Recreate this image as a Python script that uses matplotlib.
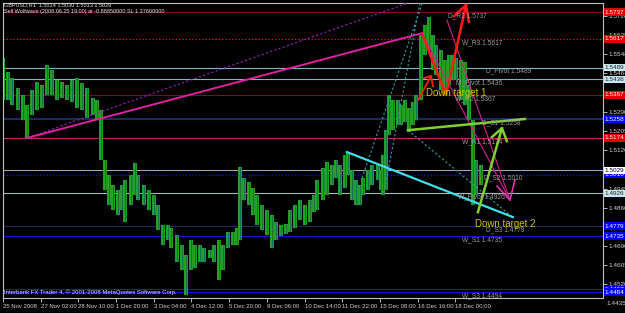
import matplotlib.pyplot as plt
import matplotlib.transforms as mtransforms

# GBPUSD H1 price path, sampled from the chart (bar index, high, low)
bars = [0, 4, 8, 13, 17, 20, 25, 29, 33, 37, 42, 46, 50, 54, 59, 63, 67, 71, 76, 80,
        83, 87, 90, 93, 98, 101, 104, 109, 112, 115, 120, 124, 128, 132, 136, 140, 143, 148, 152, 155,
        160, 163, 167, 171, 176, 179, 183, 187, 191, 195, 199, 201, 205, 209, 212, 216, 220, 224, 228, 232,
        236, 240, 244, 248, 252, 256, 261, 264, 267, 272, 275, 279, 283, 286, 290, 293, 296, 300, 303, 306,
        310, 313, 318, 321, 323, 325, 328, 331, 335, 338, 341, 345, 348, 351, 355, 358, 362, 365, 368, 372,
        375, 379, 382, 385, 389, 392, 396, 399, 402, 406]
highs = [1.5532, 1.5469, 1.5442, 1.5397, 1.5366, 1.5321, 1.5388, 1.5424, 1.5411, 1.5500, 1.5478, 1.5433, 1.5424, 1.5411, 1.5433, 1.5442, 1.5420, 1.5397, 1.5353, 1.5344,
         1.5299, 1.5075, 1.5008, 1.4963, 1.4941, 1.4963, 1.4986, 1.5008, 1.5062, 1.5008, 1.4963, 1.4941, 1.4919, 1.4874, 1.4784, 1.4784, 1.4771, 1.4740, 1.4695, 1.4650,
         1.4717, 1.4695, 1.4695, 1.4681, 1.4672, 1.4695, 1.4717, 1.4695, 1.4753, 1.4753, 1.4771, 1.5044, 1.4995, 1.4977, 1.4950, 1.4919, 1.4874, 1.4851, 1.4829, 1.4798,
         1.4784, 1.4789, 1.4851, 1.4874, 1.4896, 1.4874, 1.4896, 1.4919, 1.4986, 1.5039, 1.5066, 1.5053, 1.5075, 1.5053, 1.5098, 1.5111, 1.5030, 1.4986, 1.4963, 1.4995,
         1.5030, 1.5053, 1.5053, 1.5030, 1.5098, 1.5209, 1.5366, 1.5344, 1.5344, 1.5321, 1.5344, 1.5308, 1.5335, 1.5366, 1.5634, 1.5679, 1.5715, 1.5634, 1.5590, 1.5567,
         1.5523, 1.5545, 1.5545, 1.5532, 1.5523, 1.5514, 1.5411, 1.5254, 1.5075, 1.5053]
lows = [1.5344, 1.5344, 1.5321, 1.5299, 1.5254, 1.5174, 1.5276, 1.5299, 1.5308, 1.5366, 1.5366, 1.5344, 1.5353, 1.5344, 1.5335, 1.5308, 1.5299, 1.5263, 1.5276, 1.5254,
        1.5075, 1.4941, 1.4874, 1.4851, 1.4829, 1.4851, 1.4798, 1.4874, 1.4919, 1.4896, 1.4874, 1.4851, 1.4829, 1.4762, 1.4695, 1.4717, 1.4681, 1.4619, 1.4583, 1.4471,
        1.4583, 1.4592, 1.4619, 1.4619, 1.4637, 1.4619, 1.4538, 1.4583, 1.4681, 1.4695, 1.4695, 1.4717, 1.4896, 1.4874, 1.4829, 1.4784, 1.4762, 1.4740, 1.4681, 1.4717,
        1.4735, 1.4744, 1.4753, 1.4771, 1.4807, 1.4784, 1.4798, 1.4842, 1.4851, 1.4896, 1.4919, 1.4963, 1.4995, 1.4919, 1.4950, 1.5008, 1.4896, 1.4874, 1.4874, 1.4919,
        1.4941, 1.4963, 1.4986, 1.4941, 1.4919, 1.4941, 1.5187, 1.5209, 1.5232, 1.5232, 1.5245, 1.5200, 1.5232, 1.5254, 1.5344, 1.5545, 1.5567, 1.5478, 1.5455, 1.5388,
        1.5366, 1.5411, 1.5433, 1.5433, 1.5344, 1.5321, 1.5254, 1.4874, 1.4919, 1.4963]

# pivot levels
level_prices = [1.5737, 1.5617, 1.5489, 1.5436, 1.5367, 1.5258, 1.5174, 1.5010, 1.4926, 1.4779, 1.4735, 1.4497, 1.4484]
level_names = ['D_R1 1.5737', 'W_R3 1.5617', 'D_Pivot 1.5489', 'M_Pivot 1.5436', 'W_R2 1.5367', 'D_S1 1.5258',
               'W_R1 1.5174', 'D_S2 1.5010', 'W_Pivot 1.4926', 'D_S3 1.4779', 'W_S1 1.4735', '', 'W_S3 1.4494']
level_name_x = [378, 390, 410, 385, 384, 407, 390, 408, 386, 410, 390, 390, 390]
level_colors = ['#7a0a2a', '#ff1010', '#78b8c0', '#78b8c0', '#7a0a2a', '#1a2a5a', '#c0206a', '#1010ff',
                '#a8b8b8', '#1a2a5a', '#1010e0', '#1a2a5a', '#1010e0']
level_styles = ['-', ':', '-', '-', '-', '-', '-', ':', '-', '-', '-', '-', '-']
level_widths = [0.8, 0.9, 0.8, 0.8, 0.8, 1.6, 0.8, 0.9, 0.8, 0.8, 0.8, 0.8, 0.8]
box_colors = ['#e00000', '#e00000', '#c8e8f0', '#c8e8f0', '#e00000', '#0000ff', '#e00000', '#0000ff',
              '#c8e8f0', '#0000ff', '#0000ff', '#0000ff', '#0000ff']
bid = 1.5029

price_ticks = [1.5720, 1.5635, 1.5548, 1.5464, 1.5380, 1.5290, 1.5205, 1.5120, 1.5035,
               1.4945, 1.4860, 1.4775, 1.4690, 1.4605, 1.4520]
hidden_ticks = [1.5380, 1.5035, 1.4775]
time_ticks = [0, 32, 64, 96, 128, 160, 192, 224, 256, 288, 320, 352, 384]
time_labels = ['25 Nov 2008', '27 Nov 02:00', '28 Nov 10:00', '1 Dec 20:00', '3 Dec 04:00', '4 Dec 12:00',
               '5 Dec 20:00', '9 Dec 06:00', '10 Dec 14:00', '11 Dec 22:00', '15 Dec 08:00',
               '16 Dec 16:00', '18 Dec 00:00']

# objects drawn on the chart: (bars, prices)
magenta_trend = ([20.4, 355.7], [1.5174, 1.5643])
purple_dotted = ([20.4, 343.8], [1.5174, 1.5778])
magenta_leg1 = ([355.7, 430.4], [1.5643, 1.4896])
magenta_leg2 = ([376.9, 430.4], [1.5702, 1.4896])
magenta_head = ([419.4, 430.4, 434.6], [1.4959, 1.4896, 1.4986])
cyan_line = ([292.0, 432.9], [1.5111, 1.4820])
teal_dotted1 = ([343.8, 430.4], [1.5209, 1.4829])
teal_dotted2 = ([323.4, 354.0], [1.4928, 1.5778])
teal_dotted3 = ([304.8, 356.0], [1.4995, 1.5778])
green_line = ([343.8, 443.1], [1.5209, 1.5259])
green_arrow = ([403.2, 423.6], [1.4842, 1.5218])
green_head = ([415.1, 423.6, 427.8], [1.5178, 1.5218, 1.5160])
red_zigzag = ([356.6, 376.1, 393.1], [1.5630, 1.5366, 1.5769])
red_head = ([382.9, 393.1, 395.6], [1.5719, 1.5769, 1.5693])
red_small = ([352.3, 363.4], [1.5344, 1.5451])
red_small_head = ([357.4, 363.4, 365.1], [1.5442, 1.5451, 1.5406])

fig = plt.figure(figsize=(6.25, 3.13), dpi=100, facecolor='black')
ax = fig.add_axes([3 / 625, 1 - 298 / 313, 600 / 625, 295 / 313])
ax.set_facecolor('black')
ax.set_xlim(0, 509.4)
ax.set_ylim(1.4458, 1.5778)

for p, c, ls, lw in zip(level_prices, level_colors, level_styles, level_widths):
    ax.axhline(p, color=c, ls=ls, lw=lw, zorder=1)
ax.axhline(bid, color='#b0b0b0', lw=0.7, zorder=1)

for name, x, p in zip(level_names, level_name_x, level_prices):
    if name:
        ax.text(x, p, name, color='#9a9a9a', fontsize=4.8, va='top', ha='left',
                family='Liberation Sans', zorder=4)

# price bars
ax.vlines(bars, lows, highs, color='#22a52a', lw=2.8, zorder=2)
ax.vlines(bars, lows, highs, color='#0f6a4a', lw=0.6, zorder=2)

ax.plot(*purple_dotted, color='#9a22c0', ls=(0, (2, 2)), lw=0.8, zorder=3)
ax.plot(*magenta_trend, color='#e020a0', lw=1.4, zorder=3)
ax.plot(*magenta_leg1, color='#d02090', lw=0.8, zorder=3)
ax.plot(*magenta_leg2, color='#d02090', lw=0.8, zorder=3)
ax.plot(*magenta_head, color='#e030b0', lw=1.2, zorder=3)
ax.plot(*teal_dotted1, color='#30a0a0', ls=(0, (2, 2)), lw=0.8, zorder=3)
ax.plot(*teal_dotted2, color='#30a0a0', ls=(0, (2, 2)), lw=0.8, zorder=3)
ax.plot(*teal_dotted3, color='#30a0a0', ls=(0, (2, 2)), lw=0.8, zorder=3)
ax.plot(*cyan_line, color='#40e0e8', lw=1.6, zorder=3)
ax.plot(*green_line, color='#80d030', lw=1.8, zorder=3)
ax.plot(*green_arrow, color='#80d030', lw=1.8, zorder=3)
ax.plot(*green_head, color='#80d030', lw=1.8, zorder=3)
ax.plot(*red_zigzag, color='#ff1a1a', lw=1.8, zorder=3)
ax.plot(*red_head, color='#ff1a1a', lw=1.8, zorder=3)
ax.plot(*red_small, color='#ff1a1a', lw=1.4, zorder=3)
ax.plot(*red_small_head, color='#ff1a1a', lw=1.4, zorder=3)

ax.text(385, 1.5375, 'Down target 1', color='#d0c400', fontsize=7, ha='center', va='center',
        family='Liberation Sans', zorder=5)
ax.text(426, 1.4789, 'Down target 2', color='#d0c400', fontsize=7, ha='center', va='center',
        family='Liberation Sans', zorder=5)

# axes styling
for s in ax.spines.values():
    s.set_color('#c0c0c0')
    s.set_linewidth(0.8)
ax.yaxis.tick_right()
ax.set_yticks(price_ticks)
ax.set_yticklabels(['' if t in hidden_ticks else f'{t:.4f}' for t in price_ticks])
ax.set_xticks(time_ticks)
ax.set_xticklabels(time_labels, ha='left')
ax.tick_params(colors='#d0d0d0', length=3, width=0.6, pad=1)
ax.tick_params(axis='x', labelsize=4.3)
ax.tick_params(axis='y', labelsize=4.6)
for lab in ax.get_xticklabels() + ax.get_yticklabels():
    lab.set_family('Liberation Sans')

# price boxes on the right scale
trans = mtransforms.blended_transform_factory(ax.transAxes, ax.transData)
for p, c in zip(level_prices, box_colors):
    tc = '#202020' if c == '#c8e8f0' else '#ffffff'
    ax.text(1.003, p, f'{p:.4f}', transform=trans, color=tc, fontsize=4.6, va='center', ha='left',
            family='Liberation Sans', clip_on=False, zorder=10,
            bbox=dict(boxstyle='square,pad=0.2', fc=c, ec='none'))
ax.text(1.003, bid, f'{bid:.4f}', transform=trans, color='#000000', fontsize=4.6, va='center', ha='left',
        family='Liberation Sans', clip_on=False, zorder=10,
        bbox=dict(boxstyle='square,pad=0.2', fc='#ffffff', ec='none'))
ax.text(1.006, 1.4435, '1.4435', transform=trans, color='#d0d0d0', fontsize=4.6, va='center', ha='left',
        family='Liberation Sans', clip_on=False, zorder=10)

fig.text(4 / 625, 1 - 2 / 313, 'GBPUSD,H1  1.5014 1.5030 1.5013 1.5029', color='#e0e0e0', fontsize=4.0,
         va='top', family='Liberation Sans')
fig.text(4 / 625, 1 - 9 / 313, 'Sell Wolfwave (2008.06.25 19:00) at -0.88850000 SL 1.37600000',
         color='#e0e0e0', fontsize=4.0, va='top', family='Liberation Sans')
fig.text(4 / 625, 1 - 292 / 313, 'Interbank FX Trader 4, \u00a9 2001-2008 MetaQuotes Software Corp.',
         color='#e0e0e0', fontsize=4.3, va='center', family='Liberation Sans')

fig.savefig('out.png', dpi=100, facecolor='black')
